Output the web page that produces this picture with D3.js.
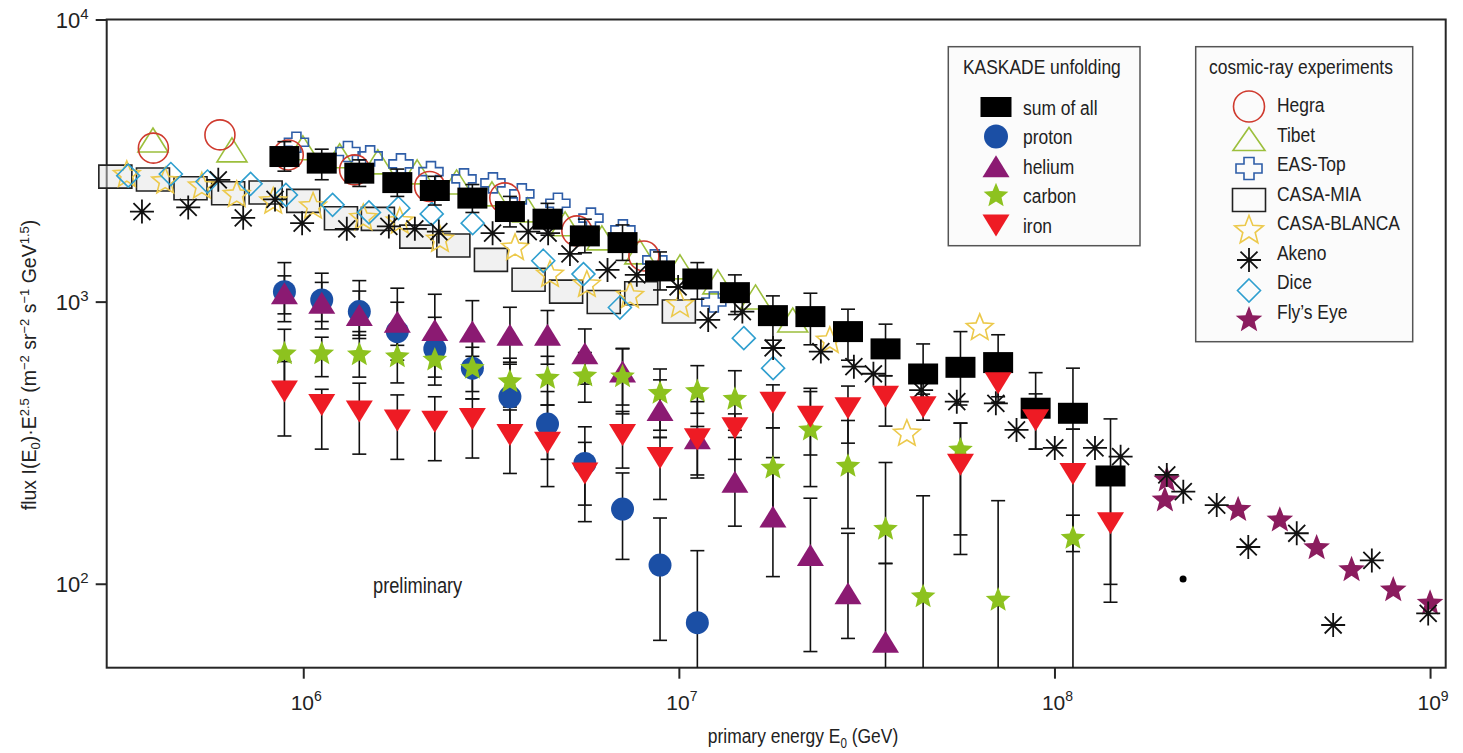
<!DOCTYPE html>
<html><head><meta charset="utf-8">
<script src="https://cdn.jsdelivr.net/npm/d3@7"></script>
<style>
html,body{margin:0;padding:0;background:#fff;}
svg{display:block;}
text{font-family:"Liberation Sans",Arial,sans-serif;fill:#222;}
</style></head><body>
<svg id="chart" width="1463" height="753"></svg>
<script>
// ---------------- DATA ----------------
// KASKADE unfolding energy bins (GeV)
const kaskadeEnergy = [8.91e5,1.12e6,1.41e6,1.78e6,2.24e6,2.82e6,3.55e6,4.47e6,5.62e6,7.08e6,8.91e6,1.12e7,1.41e7,1.78e7,2.24e7,2.82e7,3.55e7,4.47e7,5.62e7,7.08e7,8.91e7,1.12e8,1.41e8];

const sumFlux = [3268,3097,2853,2642,2477,2328,2086,1960,1710,1619,1285,1203,1076,892,885,783,680,554,585,608,419,402,241];
const sumLo   = [2900,2704,2560,2360,2200,2070,1840,1720,1490,1400,1100,1020,900,730,703,620,546,430,430,460,300,353,99.5];
const sumHi   = [3690,3470,3180,2950,2780,2600,2360,2230,1960,1870,1500,1375,1244,1048,1071,940,832,708,783,763,560,581,384];

const protonFlux = [1085,1014,922,783,680,581,460,368,267,184,116.5,72.8];
const protonLo   = [849,800,740,620,540,452,357,276,190,122,63,30];
const protonHi   = [1375,1261,1187,995,880,760,600,480,360,247,171,131];

const heliumFlux = [1071,990,897,849,794,783,763,763,656,565,413,328,230,173,126.5,92.5,62.3];
const heliumLo   = [905,850,760,700,650,640,610,600,510,430,330,243,160,106,57.5,64,30];
const heliumHi   = [1234,1170,1090,1116,1062,1008,955,930,800,683,528,442,330,280,201,151,118];

const carbonFlux = [653,653,648,638,621,581,520,535,545,542,473,480,451,257,351,261,156,90,298,87.5,null,145,null];
const carbonLo   = [520,542,540,515,506,480,423,430,440,400,350,402,350,160,221,157,118,30,149,30,null,130,null];
const carbonHi   = [798,748,783,780,760,689,630,640,660,680,577,593,569,357,480,379,269,205,371,197,null,175,null];

const ironFlux = [480,430,408,379,375,384,337,316,246,337,279,325,356,438,391,419,460,422,264,514,380,245,164];
const ironLo   = [334,300,288,276,273,279,246,221,166,257,199,237,276,357,286,315,362,380,127,440,300,30,86];
const ironHi   = [613,489,514,467,460,452,413,430,317,408,330,361,400,507,493,502,546,470,371,590,471,353,230];

// other cosmic-ray experiments
const hegraEnergy = [3.99e5,6.00e5,9.12e5,1.37e6,2.17e6,3.44e6,5.35e6,8.07e6];
const hegraFlux   = [3499,3899,3311,2931,2558,2333,1782,1452];

const tibetEnergy = [3.98e5,6.46e5,9.98e5,1.25e6,1.58e6,2.01e6,2.56e6,3.18e6,3.96e6,4.98e6,6.24e6,7.87e6,1.007e7,1.27e7,1.60e7,2.01e7];
const tibetFlux   = [3741,3451,3509,3289,3129,2884,2656,2410,2115,1887,1683,1501,1328,1175,1039,861];

const easTopEnergy = [9.59e5,1.315e6,1.507e6,1.82e6,2.188e6,2.679e6,3.199e6,3.819e6,4.764e6,5.834e6,7.096e6,8.63e6,1.239e7];
const easTopFlux   = [3670,3405,3286,3077,2890,2723,2636,2410,2233,1977,1796,1406,997];

const casaMiaEnergy = [3.16e5,3.98e5,5.01e5,6.31e5,7.94e5,1.0e6,1.26e6,1.58e6,2.0e6,2.51e6,3.16e6,3.98e6,5.01e6,6.31e6,7.94e6,1.0e7];
const casaMiaFlux   = [2773,2709,2524,2423,2438,2276,1976,1965,1700,1581,1406,1195,1085,997,1071,922];

const casaBlancaEnergy = [3.39e5,4.29e5,5.37e5,6.65e5,8.32e5,1.062e6,1.445e6,1.807e6,2.312e6,3.664e6,4.539e6,5.689e6,7.413e6,1.007e7,2.523e7,4.046e7,6.324e7];
const casaBlancaFlux   = [2812,2667,2560,2389,2263,2173,1977,1923,1656,1550,1245,1147,1048,973,726,340,807];

const akenoEnergy = [3.72e5,4.94e5,5.94e5,6.92e5,8.41e5,9.93e5,1.306e6,1.69e6,1.982e6,2.296e6,3.192e6,3.972e6,4.487e6,5.129e6,6.457e6,7.727e6,9.954e6,1.197e7,1.476e7,1.782e7,2.388e7,2.924e7,3.296e7,4.416e7,5.495e7,6.982e7,7.925e7,1.002e8,1.282e8,1.5e8,1.991e8,2.203e8,2.704e8,3.281e8,4.416e8,5.521e8,6.998e8,9.886e8];
const akenoFlux   = [2085,2158,2702,1981,2303,1897,1811,1848,1811,1771,1749,1771,1749,1476,1295,1244,1127,861,922,685,665,588,555,486,442,436,351,303,303,282,243,212,190,135,151,71.4,121,78.5];

const diceEnergy = [3.42e5,4.44e5,5.56e5,7.24e5,8.99e5,1.197e6,1.496e6,1.791e6,2.198e6,2.825e6,4.355e6,5.572e6,6.966e6,1.489e7,1.782e7];
const diceFlux   = [2795,2833,2665,2615,2389,2203,2071,2144,2046,1897,1396,1252,953,742,581];

const flysEyeEnergy = [1.968e8,1.991e8,3.083e8,3.981e8,4.989e8,6.18e8,7.98e8,1.0e9];
const flysEyeFlux   = [198,233,183,168,134,112,95,85.2];

const strayDotEnergy = [2.2e8];
const strayDotFlux   = [104];

const xTicks = [1e6,1e7,1e8,1e9];
const xTickExp = ["6","7","8","9"];
const yTicks = [1e2,1e3,1e4];
const yTickExp = ["2","3","4"];

const kaskadeLabels = ["sum of all","proton","helium","carbon","iron"];
const experimentLabels = ["Hegra","Tibet","EAS-Top","CASA-MIA","CASA-BLANCA","Akeno","Dice","Fly\u2019s Eye"];

// ---------------- SETUP ----------------
const svg = d3.select("#chart");
const x = d3.scaleLog().domain([2.997e5, 1.1006e9]).range([106.7, 1445.7]);
const y = d3.scaleLog().domain([50.4, 1e4]).range([667.7, 19.5]);
const [yBot, yTop] = y.range();
const NARROW = 0.83;   // horizontal squeeze for the condensed label face

const C = {
  hegra:"#cf3a2e", tibet:"#9cbf3c", eas:"#2f5ea8", mia:"#222", blanca:"#ecc94b",
  akeno:"#111", dice:"#2f9fcf", fly:"#8b1c5e",
  sum:"#000", proton:"#1b4fa5", helium:"#8b1a72", carbon:"#8dc21f", iron:"#ee1b24"
};

// condensed text helper
function ntext(px, py, size, anchor){
  return svg.append("g").attr("transform",`translate(${px},${py}) scale(${NARROW},1)`)
    .append("text").attr("font-size",size).attr("text-anchor",anchor||"start");
}

// shape generators (relative to centre)
function starPath(R, r){
  let p=[]; for(let i=0;i<10;i++){const a=-Math.PI/2+i*Math.PI/5; const rr=i%2?r:R; p.push([rr*Math.cos(a), rr*Math.sin(a)]);}
  return "M"+p.map(q=>q[0].toFixed(2)+","+q[1].toFixed(2)).join("L")+"Z";
}
function triPath(w,h,up){
  return up ? `M0,${-h/2}L${w/2},${h/2}L${-w/2},${h/2}Z` : `M0,${h/2}L${w/2},${-h/2}L${-w/2},${-h/2}Z`;
}
function crossPath(w,h,tw,th){
  const a=w/2,b=h/2,c=tw/2,d=th/2;
  return `M${-c},${-b}H${c}V${-d}H${a}V${d}H${c}V${b}H${-c}V${d}H${-a}V${-d}H${-c}Z`;
}
function diamondPath(r){ return `M0,${-r}L${r},0L0,${r}L${-r},0Z`; }
function asteriskPath(r){
  const d=r*Math.SQRT1_2;
  return `M0,${-r}V${r}M${-r},0H${r}M${-d},${-d}L${d},${d}M${-d},${d}L${d},${-d}`;
}
function rectPath(w,h){ return `M${-w/2},${-h/2}h${w}v${h}h${-w}Z`; }
const circlePath = r => d3.arc()({innerRadius:0,outerRadius:r,startAngle:0,endAngle:2*Math.PI});

const zip = (E,F)=>E.map((e,i)=>({e:e,f:F[i]})).filter(d=>d.f!=null);
const tr = d=>`translate(${x(d.e)},${y(d.f)})`;

function drawSeries(g, data, path, style){
  const s = g.selectAll(null).data(data).enter().append("path")
    .attr("transform", tr).attr("d", path);
  Object.entries(style).forEach(([k,v])=>s.attr(k,v));
  return s;
}

// ---------------- FRAME & AXES ----------------
svg.append("rect").attr("x",x.range()[0]).attr("y",yTop)
  .attr("width",x.range()[1]-x.range()[0]).attr("height",yBot-yTop)
  .attr("fill","none").attr("stroke","#262626").attr("stroke-width",2);

const gx = svg.append("g").attr("transform",`translate(0,${yBot})`)
  .call(d3.axisBottom(x).tickValues(xTicks).tickSize(11).tickFormat(""));
gx.select(".domain").remove();
gx.selectAll("line").attr("stroke","#262626").attr("stroke-width",2);

const gy = svg.append("g").attr("transform",`translate(${x.range()[0]},0)`)
  .call(d3.axisLeft(y).tickValues(yTicks).tickSize(11).tickFormat(""));
gy.select(".domain").remove();
gy.selectAll("line").attr("stroke","#262626").attr("stroke-width",2);

xTicks.forEach((v,i)=>{
  const t = svg.append("text").attr("x",x(v)+3).attr("y",yBot+42)
    .attr("text-anchor","middle").attr("font-size",21).attr("fill","#333");
  t.append("tspan").text("10");
  t.append("tspan").attr("font-size",14).attr("dy",-9).text(xTickExp[i]);
});
yTicks.forEach((v,i)=>{
  const t = svg.append("text").attr("x",x.range()[0]-18).attr("y",y(v)+8)
    .attr("text-anchor","end").attr("font-size",22).attr("fill","#333");
  t.append("tspan").text("10");
  t.append("tspan").attr("font-size",15).attr("dy",-9).text(yTickExp[i]);
});

// axis titles
const xt = ntext(803, 743, 21, "middle");
xt.append("tspan").text("primary energy E");
xt.append("tspan").attr("font-size",14).attr("dy",5).text("0");
xt.append("tspan").attr("dy",-5).text(" (GeV)");

const yt = svg.append("text").attr("transform","translate(36,365) rotate(-90)")
  .attr("text-anchor","middle").attr("font-size",19.5);
yt.append("tspan").text("flux I(E");
yt.append("tspan").attr("font-size",13).attr("dy",4).text("0");
yt.append("tspan").attr("dy",-4).text(")\u00b7E");
yt.append("tspan").attr("font-size",13).attr("dy",-7).text("2.5");
yt.append("tspan").attr("dy",7).text(" (m");
yt.append("tspan").attr("font-size",13).attr("dy",-7).text("\u22122");
yt.append("tspan").attr("dy",7).text(" sr");
yt.append("tspan").attr("font-size",13).attr("dy",-7).text("\u22122");
yt.append("tspan").attr("dy",7).text(" s");
yt.append("tspan").attr("font-size",13).attr("dy",-7).text("\u22121");
yt.append("tspan").attr("dy",7).text(" GeV");
yt.append("tspan").attr("font-size",13).attr("dy",-7).text("1.5");
yt.append("tspan").attr("dy",7).text(")");

ntext(373, 593, 22).text("preliminary");

// ---------------- EXPERIMENTS ----------------
const gExp = svg.append("g");
drawSeries(gExp, zip(casaMiaEnergy,casaMiaFlux), rectPath(33,23), {fill:"rgba(225,225,225,0.45)",stroke:C.mia,"stroke-width":1.6});
drawSeries(gExp, zip(casaBlancaEnergy,casaBlancaFlux), starPath(14,6.2), {fill:"none",stroke:C.blanca,"stroke-width":1.6});
drawSeries(gExp, zip(diceEnergy,diceFlux), diamondPath(11.5), {fill:"none",stroke:C.dice,"stroke-width":1.6});
drawSeries(gExp, zip(tibetEnergy,tibetFlux), triPath(30,24,true), {fill:"none",stroke:C.tibet,"stroke-width":1.6});
drawSeries(gExp, zip(easTopEnergy,easTopFlux), crossPath(24,20,9,8), {fill:"none",stroke:C.eas,"stroke-width":1.6});
drawSeries(gExp, zip(hegraEnergy,hegraFlux), circlePath(15), {fill:"none",stroke:C.hegra,"stroke-width":1.6});
drawSeries(gExp, zip(flysEyeEnergy,flysEyeFlux), starPath(14,6), {fill:C.fly,stroke:"none"});
drawSeries(gExp, zip(akenoEnergy,akenoFlux), asteriskPath(12), {fill:"none",stroke:C.akeno,"stroke-width":1.8});
gExp.selectAll(null).data(zip(strayDotEnergy,strayDotFlux)).enter().append("circle")
  .attr("cx",d=>x(d.e)).attr("cy",d=>y(d.f)).attr("r",3.5).attr("fill","#000");

// ---------------- KASKADE ----------------
const gErr = svg.append("g").attr("stroke","#111").attr("stroke-width",1.6);
const yMin = y.domain()[0];
function errBars(F,L,H){
  F.forEach((f,i)=>{
    if(f==null) return;
    const cx = x(kaskadeEnergy[i]);
    const lo = Math.max(L[i], yMin), hi = H[i];
    gErr.append("line").attr("x1",cx).attr("x2",cx).attr("y1",y(hi)).attr("y2",y(lo));
    gErr.append("line").attr("x1",cx-7).attr("x2",cx+7).attr("y1",y(hi)).attr("y2",y(hi));
    if(L[i] > yMin) gErr.append("line").attr("x1",cx-7).attr("x2",cx+7).attr("y1",y(lo)).attr("y2",y(lo));
  });
}
errBars(sumFlux,sumLo,sumHi);
errBars(protonFlux,protonLo,protonHi);
errBars(heliumFlux,heliumLo,heliumHi);
errBars(carbonFlux,carbonLo,carbonHi);
errBars(ironFlux,ironLo,ironHi);

const gK = svg.append("g");
drawSeries(gK, zip(kaskadeEnergy,sumFlux), rectPath(30,21), {fill:C.sum});
drawSeries(gK, zip(kaskadeEnergy,protonFlux), circlePath(11.5), {fill:C.proton});
drawSeries(gK, zip(kaskadeEnergy,heliumFlux), triPath(27,22,true), {fill:C.helium});
drawSeries(gK, zip(kaskadeEnergy,carbonFlux), starPath(13,5.8), {fill:C.carbon});
drawSeries(gK, zip(kaskadeEnergy,ironFlux), triPath(27,22,false), {fill:C.iron});

// ---------------- LEGENDS ----------------
const L1 = {x:948.3, y:46.7, w:191.7, h:199};
const L2 = {x:1195.7, y:46.7, w:217, h:295};
[L1,L2].forEach(b=>svg.append("rect").attr("x",b.x).attr("y",b.y).attr("width",b.w).attr("height",b.h)
  .attr("fill","#fbfbfb").attr("stroke","#555").attr("stroke-width",1.5));
ntext(963, 74, 21).text("KASKADE unfolding");
ntext(1209, 74, 21).text("cosmic-ray experiments");

const kShapes = [
  {d:rectPath(31,20), fill:C.sum},
  {d:circlePath(12), fill:C.proton},
  {d:triPath(27,22,true), fill:C.helium},
  {d:starPath(13,5.8), fill:C.carbon},
  {d:triPath(27,22,false), fill:C.iron}
];
kaskadeLabels.forEach((lab,i)=>{
  const cy = 107 + i*29.6;
  svg.append("path").attr("transform",`translate(996,${cy})`).attr("d",kShapes[i].d).attr("fill",kShapes[i].fill);
  ntext(1023, cy+7.5, 21).text(lab);
});

const eShapes = [
  {d:circlePath(15.5), fill:"none", stroke:C.hegra, dy:2},
  {d:triPath(32,23,true), fill:"none", stroke:C.tibet, dy:5},
  {d:crossPath(26,22,10,9), fill:"none", stroke:C.eas, dy:5},
  {d:rectPath(33,23), fill:"none", stroke:C.mia, dy:7},
  {d:starPath(15,6.5), fill:"none", stroke:C.blanca, dy:8},
  {d:asteriskPath(12), fill:"none", stroke:C.akeno, dy:8},
  {d:diamondPath(11.5), fill:"none", stroke:C.dice, dy:9},
  {d:starPath(14,6), fill:C.fly, stroke:"none", dy:9}
];
experimentLabels.forEach((lab,i)=>{
  const cy = 104.5 + i*29.5;
  svg.append("path").attr("transform",`translate(1249,${cy+eShapes[i].dy})`).attr("d",eShapes[i].d)
    .attr("fill",eShapes[i].fill).attr("stroke",eShapes[i].stroke).attr("stroke-width",i===5?1.8:1.6);
  ntext(1277, cy+7.5, 21).text(lab);
});
</script></body></html>
